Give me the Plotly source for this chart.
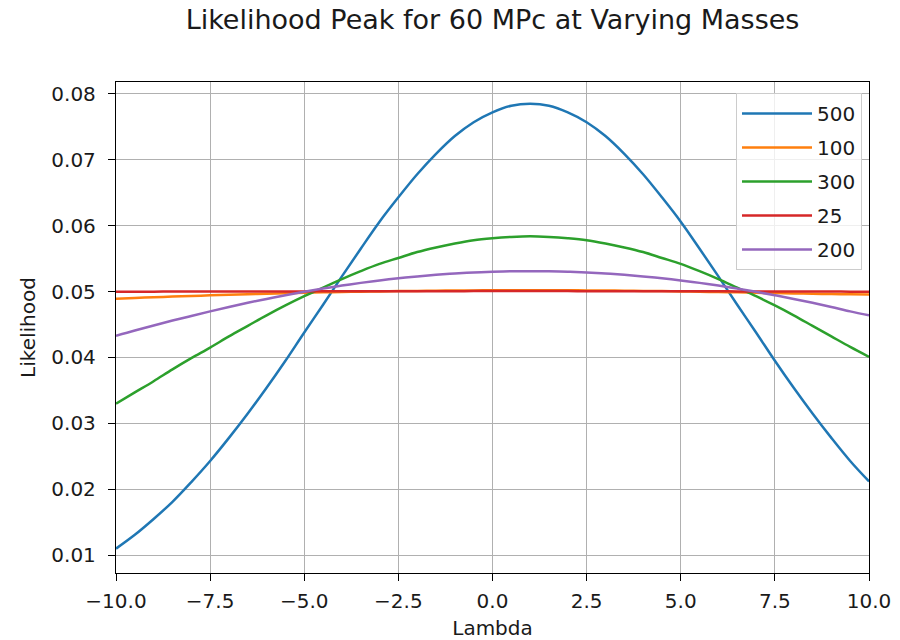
import plotly.graph_objects as go

# Lambda sample points (half-unit steps)
lam = [-10, -9.5, -9, -8.5, -8, -7.5, -7, -6.5, -6, -5.5, -5, -4.5, -4, -3.5, -3, -2.5, -2, -1.5, -1, -0.5,
       0, 0.5, 1, 1.5, 2, 2.5, 3, 3.5, 4, 4.5, 5, 5.5, 6, 6.5, 7, 7.5, 8, 8.5, 9, 9.5, 10]

# Normalised likelihood for each mass
like_500 = [0.0110, 0.0131, 0.0155, 0.0181, 0.0211, 0.0243, 0.0278, 0.0315, 0.0354, 0.0395, 0.0438,
            0.0480, 0.0523, 0.0565, 0.0606, 0.0643, 0.0678, 0.0709, 0.0736, 0.0757, 0.0772,
            0.0782, 0.0785, 0.0782, 0.0772, 0.0757, 0.0736, 0.0709, 0.0678, 0.0643, 0.0606,
            0.0565, 0.0523, 0.0480, 0.0438, 0.0395, 0.0354, 0.0315, 0.0278, 0.0243, 0.0212]
like_100 = [0.04893, 0.04904, 0.04914, 0.04924, 0.04934, 0.04943, 0.04952, 0.04960, 0.04968, 0.04975, 0.04982,
            0.04988, 0.04993, 0.04998, 0.05003, 0.05007, 0.05010, 0.05013, 0.05016, 0.05018, 0.05019,
            0.05020, 0.05020, 0.05020, 0.05019, 0.05018, 0.05016, 0.05013, 0.05010, 0.05007, 0.05003,
            0.04998, 0.04993, 0.04988, 0.04982, 0.04977, 0.04972, 0.04967, 0.04962, 0.04958, 0.04955]
like_300 = [0.0330, 0.0347, 0.0364, 0.0382, 0.0399, 0.0415, 0.0432, 0.0448, 0.0464, 0.0479, 0.0493,
            0.0506, 0.0519, 0.0531, 0.0542, 0.0551, 0.0560, 0.0567, 0.0573, 0.0578, 0.0581,
            0.0583, 0.0584, 0.0583, 0.0581, 0.0578, 0.0573, 0.0567, 0.0560, 0.0551, 0.0542,
            0.0531, 0.0519, 0.0506, 0.0493, 0.0479, 0.0464, 0.0448, 0.0432, 0.0416, 0.0401]
like_25 = [0.04998, 0.04998, 0.04999, 0.05000, 0.05000, 0.05001, 0.05001, 0.05002, 0.05002, 0.05003, 0.05003,
           0.05004, 0.05004, 0.05005, 0.05005, 0.05006, 0.05006, 0.05006, 0.05006, 0.05007, 0.05007,
           0.05007, 0.05007, 0.05007, 0.05007, 0.05006, 0.05006, 0.05006, 0.05006, 0.05005, 0.05005,
           0.05004, 0.05004, 0.05003, 0.05003, 0.05002, 0.05002, 0.05001, 0.05000, 0.04999, 0.04998]
like_200 = [0.0433, 0.0441, 0.04486, 0.0456, 0.0463, 0.0470, 0.04767, 0.0483, 0.04889, 0.04945, 0.04997,
            0.05046, 0.05091, 0.05132, 0.05169, 0.05201, 0.05230, 0.05254, 0.05274, 0.05290, 0.05301,
            0.05308, 0.0531, 0.05308, 0.05301, 0.05290, 0.05274, 0.05254, 0.05230, 0.05201, 0.05169,
            0.05132, 0.05091, 0.05046, 0.04997, 0.04945, 0.04889, 0.0483, 0.04767, 0.0470, 0.0464]

series = [
    ("500", like_500, "#1f77b4"),
    ("100", like_100, "#ff7f0e"),
    ("300", like_300, "#2ca02c"),
    ("25", like_25, "#d62728"),
    ("200", like_200, "#9467bd"),
]

x_ticks = [-10, -7.5, -5, -2.5, 0, 2.5, 5, 7.5, 10]
x_ticktext = ["\u221210.0", "\u22127.5", "\u22125.0", "\u22122.5", "0.0", "2.5", "5.0", "7.5", "10.0"]
y_ticks = [0.01, 0.02, 0.03, 0.04, 0.05, 0.06, 0.07, 0.08]

FONT = "DejaVu Sans"
INK = "#1a1a1a"
TICK_SIZE = 20

fig = go.Figure()
for name, ys, color in series:
    fig.add_trace(go.Scatter(
        x=lam, y=ys, name=name, legendgroup=name, mode="lines",
        line=dict(color=color, width=2.5, shape="spline", smoothing=1.0),
    ))

axis_common = dict(
    showline=True, linecolor="black", linewidth=1.3, mirror=True,
    ticks="outside", ticklen=7, tickwidth=1.2, tickcolor="black",
    showgrid=True, gridcolor="#b0b0b0", gridwidth=1,
    zeroline=False, automargin=False,
    tickfont=dict(family=FONT, size=TICK_SIZE, color=INK),
)

fig.update_layout(
    width=900, height=640,
    margin=dict(l=116, r=31, t=82, b=67),
    paper_bgcolor="white", plot_bgcolor="white",
    font=dict(family=FONT, color=INK),
    title=dict(
        text="Likelihood Peak for 60 MPc at Varying Masses",
        font=dict(family=FONT, size=27, color=INK),
        x=0.5, xref="paper", xanchor="center",
        y=1 - 20 / 640, yref="container", yanchor="middle",
    ),
    xaxis=dict(
        range=[-10, 10], tickvals=x_ticks, ticktext=x_ticktext,
        ticklabelstandoff=3,
        title=dict(text="Lambda", font=dict(family=FONT, size=TICK_SIZE, color=INK), standoff=10),
        **axis_common,
    ),
    yaxis=dict(
        range=[0.0073, 0.0818], tickvals=y_ticks, tickformat=".2f",
        ticklabelstandoff=8,
        title=dict(text="Likelihood", font=dict(family=FONT, size=TICK_SIZE, color=INK), standoff=10),
        **axis_common,
    ),
    legend=dict(
        x=0.9907, y=0.9776, xanchor="right", yanchor="top",
        bgcolor="rgba(255,255,255,0.8)", bordercolor="#cccccc", borderwidth=1,
        font=dict(family=FONT, size=TICK_SIZE, color=INK),
        tracegroupgap=5, itemwidth=70,
    ),
    showlegend=True,
)

fig.write_html("out.html")
